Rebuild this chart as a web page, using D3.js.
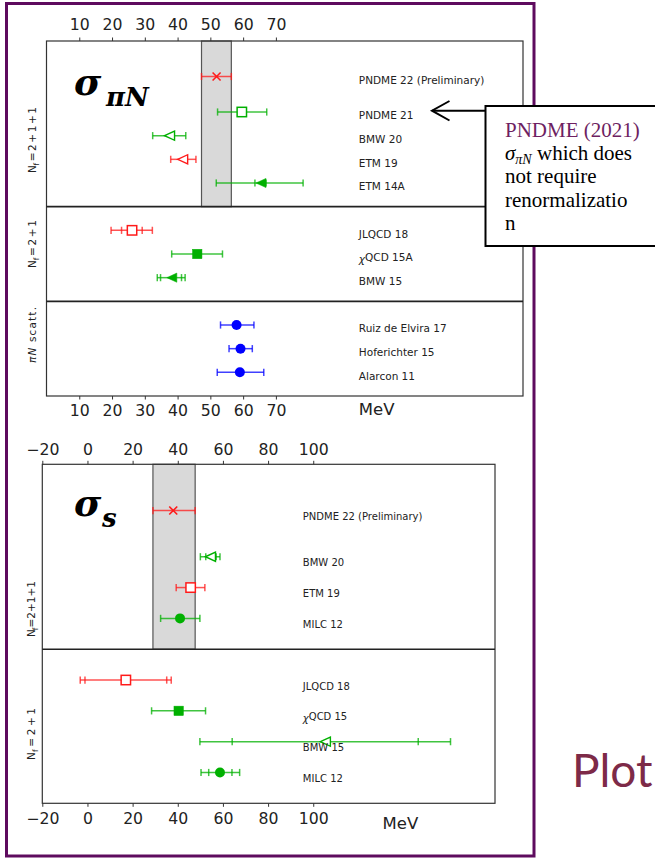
<!DOCTYPE html>
<html><head><meta charset="utf-8">
<script src="https://cdn.jsdelivr.net/npm/d3@7"></script>
<style>body{margin:0;background:#fff}svg{display:block}</style>
</head><body>
<svg id="c" width="655" height="859"></svg>
<script>
// ---------- data: sigma_piN ----------
const piNLabels = ["PNDME 22 (Preliminary)", "PNDME 21", "BMW 20", "ETM 19", "ETM 14A",
                   "JLQCD 18", "χQCD 15A", "BMW 15",
                   "Ruiz de Elvira 17", "Hoferichter 15", "Alarcon 11"];
const piNSlots  = [1.5, 3, 4, 5, 6, 8, 9, 10, 12, 13, 14];
const piNValues = [51.9, 59.6, 37.7, 41.7, 65.6, 26.1, 46.0, 38.4, 58.0, 59.2, 59.0];
const piNLo     = [47.3, 52.2, 32.4, 37.9, 51.8, 19.7, 38.2, 33.8, 53.1, 55.7, 52.1];
const piNHi     = [56.4, 67.2, 42.5, 45.6, 78.3, 32.3, 53.7, 42.3, 63.3, 62.8, 66.3];
const piNInLo   = [null, null, null, null, 63.6, 22.9, null, 34.8, null, null, null];
const piNInHi   = [null, null, null, null, 67.0, 29.2, null, 41.2, null, null, null];
const piNMarker = ["x", "square-open", "tri-open", "tri-open", "tri", "square-open", "square", "tri", "circle", "circle", "circle"];
const piNColor  = ["red", "green", "green", "red", "green", "red", "green", "green", "blue", "blue", "blue"];
const piNTicks  = [10, 20, 30, 40, 50, 60, 70];
const piNDividers = [7, 11];
const piNBand   = [47.3, 56.4];
const piNGroups = [
  {text: ["N", "f", "\u2009=\u20092\u2009+\u20091\u2009+\u20091"], center: 140, len: 66},
  {text: ["N", "f", "\u2009=\u20092\u2009+\u20091"], center: 244, len: 48},
  {text: ["πN", "", " scatt."], center: 335, len: 56}
];

// ---------- data: sigma_s ----------
const sLabels = ["PNDME 22 (Preliminary)", "BMW 20", "ETM 19", "MILC 12",
                 "JLQCD 18", "χQCD 15", "BMW 15", "MILC 12"];
const sSlots  = [1.5, 3, 4, 5, 7, 8, 9, 10];
const sValues = [38.0, 54.7, 45.7, 41.0, 17.0, 40.4, 105.6, 58.7];
const sLo     = [29.0, 50.0, 39.3, 32.4, -3.2, 28.4, 49.8, 50.3];
const sHi     = [47.7, 58.7, 52.0, 49.8, 37.1, 52.3, 160.8, 67.4];
const sInLo   = [null, 52.4, null, null, -1.1, null, 64.1, 53.7];
const sInHi   = [null, 57.0, null, null, 35.1, null, 146.5, 64.0];
const sMarker = ["x", "tri-open", "square-open", "circle", "square-open", "square", "tri-open", "circle"];
const sColor  = ["red", "green", "red", "green", "red", "green", "green", "green"];
const sTicks  = [-20, 0, 20, 40, 60, 80, 100];
const sDividers = [6];
const sBand   = [29.0, 47.7];
const sGroups = [
  {text: ["N", "f", "\u2009=\u20092\u2009+\u20091\u2009+\u20091"], center: 609, len: 56},
  {text: ["N", "f", "\u2009=\u20092\u2009+\u20091"], center: 734, len: 52}
];

const palette = {red: "#ff1a1a", green: "#00b000", blue: "#0000ff"};
const svg = d3.select("#c");
const FONT = "'DejaVu Sans', sans-serif";

// purple frame
svg.append("rect").attr("x", 6.5).attr("y", 3.5).attr("width", 527.5).attr("height", 852.5)
  .attr("fill", "none").attr("stroke", "#5e0b5e").attr("stroke-width", 3);

function fmt(d) { return d < 0 ? "\u2212" + Math.abs(d) : String(d); }

function drawMarker(g, type, color, cx, cy) {
  const c = palette[color];
  if (type === "x") {
    g.append("path").attr("d", `M${cx-4},${cy-4}L${cx+4},${cy+4}M${cx-4},${cy+4}L${cx+4},${cy-4}`)
      .attr("stroke", c).attr("stroke-width", 1.6).attr("fill", "none");
  } else if (type.startsWith("square")) {
    const open = type.endsWith("open");
    g.append("rect").attr("x", cx - 4.7).attr("y", cy - 4.7).attr("width", 9.4).attr("height", 9.4)
      .attr("fill", open ? "#fff" : c).attr("stroke", c).attr("stroke-width", open ? 1.5 : 0.5);
  } else if (type.startsWith("tri")) {
    const open = type.endsWith("open");
    g.append("path").attr("d", `M${cx-5.5},${cy}L${cx+4.5},${cy-4.6}L${cx+4.5},${cy+4.6}Z`)
      .attr("fill", open ? "#fff" : c).attr("stroke", c).attr("stroke-width", open ? 1.4 : 0.5);
  } else if (type === "circle") {
    g.append("circle").attr("cx", cx).attr("cy", cy).attr("r", 5).attr("fill", c);
  }
}

function drawForest(cfg) {
  const x = d3.scaleLinear().domain(cfg.xDomain).range([cfg.left, cfg.right]);
  const y = d3.scaleLinear().domain(cfg.yDomain).range([cfg.top, cfg.bottom]);
  const g = svg.append("g");

  // band
  g.append("rect").attr("x", x(cfg.band[0])).attr("y", y(cfg.yDomain[0]))
    .attr("width", x(cfg.band[1]) - x(cfg.band[0])).attr("height", y(cfg.bandEnd) - y(cfg.yDomain[0]))
    .attr("fill", "#d9d9d9").attr("stroke", "#555").attr("stroke-width", 1.2);

  // spines
  g.append("rect").attr("x", cfg.left).attr("y", cfg.top)
    .attr("width", cfg.right - cfg.left).attr("height", cfg.bottom - cfg.top)
    .attr("fill", "none").attr("stroke", "#333").attr("stroke-width", 1.2);

  // dividers
  cfg.dividers.forEach(d => {
    g.append("line").attr("x1", cfg.left).attr("x2", cfg.right)
      .attr("y1", y(d)).attr("y2", y(d)).attr("stroke", "#222").attr("stroke-width", 1.6);
  });

  // axes
  const aT = g.append("g").attr("transform", `translate(0,${cfg.top})`)
    .call(d3.axisTop(x).tickValues(cfg.ticks).tickSize(3.5).tickPadding(cfg.padTop).tickFormat(fmt));
  const aB = g.append("g").attr("transform", `translate(0,${cfg.bottom})`)
    .call(d3.axisBottom(x).tickValues(cfg.ticks).tickSize(3.5).tickPadding(cfg.padBottom).tickFormat(fmt));
  [aT, aB].forEach(a => {
    a.select(".domain").remove();
    a.selectAll("line").attr("stroke", "#333").attr("stroke-width", 1);
    a.selectAll("text").attr("font-family", FONT).attr("font-size", 15.7).attr("fill", "#222");
  });

  // error bars + markers
  cfg.values.forEach((v, i) => {
    const cy = y(cfg.slots[i]);
    const c = palette[cfg.color[i]];
    const eb = g.append("g").attr("stroke", c).attr("stroke-opacity", 0.75).attr("stroke-width", 1.5);
    eb.append("line").attr("x1", x(cfg.lo[i])).attr("x2", x(cfg.hi[i])).attr("y1", cy).attr("y2", cy);
    [cfg.lo[i], cfg.hi[i], cfg.inLo[i], cfg.inHi[i]].forEach(e => {
      if (e === null) return;
      eb.append("line").attr("x1", x(e)).attr("x2", x(e)).attr("y1", cy - 3.6).attr("y2", cy + 3.6);
    });
    drawMarker(g, cfg.marker[i], cfg.color[i], x(v), cy);

    // label
    const t = g.append("text").attr("x", x(cfg.labelX)).attr("y", cy + cfg.labelDy)
      .attr("font-family", FONT).attr("font-size", cfg.labelSize).attr("fill", "#222");
    const lab = cfg.labels[i];
    if (lab.startsWith("χ")) {
      t.append("tspan").attr("font-style", "italic").attr("dy", 1.5).text("χ");
      t.append("tspan").attr("dy", -1.5).text(lab.slice(1));
    } else t.text(lab);
  });

  // group labels (rotated)
  cfg.groups.forEach(gr => {
    const t = g.append("text")
      .attr("transform", `translate(${cfg.groupX},${gr.center}) rotate(-90)`)
      .attr("text-anchor", "middle").attr("font-family", FONT).attr("font-size", 10.5).attr("fill", "#222")
      .attr("textLength", gr.len).attr("lengthAdjust", "spacing");
    if (gr.text[0] === "πN") {
      t.append("tspan").attr("font-style", "italic").text("πN");
      t.append("tspan").text(gr.text[2]);
    } else {
      t.append("tspan").text(gr.text[0]);
      t.append("tspan").attr("font-size", 7.5).attr("dy", 2.5).text(gr.text[1]);
      t.append("tspan").attr("dy", -2.5).text(gr.text[2]);
    }
  });

  // unit
  g.append("text").attr("x", x(cfg.unitX)).attr("y", cfg.unitY)
    .attr("font-family", FONT).attr("font-size", 16.5).attr("fill", "#222").text("MeV");
  return {x, y};
}

drawForest({
  xDomain: [0, 145.4], left: 46.5, right: 523,
  yDomain: [0, 15], top: 41, bottom: 396,
  ticks: piNTicks, padTop: 7.5, padBottom: 5.8,
  band: piNBand, bandEnd: 7, dividers: piNDividers,
  slots: piNSlots, values: piNValues, lo: piNLo, hi: piNHi, inLo: piNInLo, inHi: piNInHi,
  marker: piNMarker, color: piNColor, labels: piNLabels,
  labelX: 95.3, labelDy: 7.2, labelSize: 10.5,
  groups: piNGroups, groupX: 36,
  unitX: 95.3, unitY: 415
});

drawForest({
  xDomain: [-20, 180.5], left: 42.3, right: 495,
  yDomain: [0, 11], top: 464.3, bottom: 803.3,
  ticks: sTicks, padTop: 5.5, padBottom: 5.8,
  band: sBand, bandEnd: 6, dividers: sDividers,
  slots: sSlots, values: sValues, lo: sLo, hi: sHi, inLo: sInLo, inHi: sInHi,
  marker: sMarker, color: sColor, labels: sLabels,
  labelX: 95.4, labelDy: 9.6, labelSize: 10,
  groups: sGroups, groupX: 35,
  unitX: 130.7, unitY: 828.5
});

// big sigma titles
const SERIF = "'DejaVu Serif', serif";
function bigSigma(x0, base, sub, subX, subBase) {
  svg.append("text").attr("x", x0).attr("y", base).attr("font-family", SERIF)
    .attr("font-weight", "bold").attr("font-style", "italic").attr("font-size", 37).attr("fill", "#000").text("σ");
  svg.append("text").attr("x", subX).attr("y", subBase).attr("font-family", SERIF)
    .attr("font-weight", "bold").attr("font-style", "italic").attr("font-size", 26).attr("fill", "#000").text(sub);
}
bigSigma(74, 94.5, "πN", 106, 105.7);
bigSigma(74, 515.5, "s", 102, 526.7);

// annotation arrow
svg.append("line").attr("x1", 432).attr("x2", 486).attr("y1", 110.7).attr("y2", 110.7)
  .attr("stroke", "#000").attr("stroke-width", 2);
svg.append("path").attr("d", "M449.5,101L432,110.7L449.5,120.5")
  .attr("fill", "none").attr("stroke", "#000").attr("stroke-width", 2);

// annotation box
svg.append("rect").attr("x", 485.5).attr("y", 106).attr("width", 190).attr("height", 140)
  .attr("fill", "#fff").attr("stroke", "#000").attr("stroke-width", 2);
const AFONT = "'Liberation Serif', serif";
const annLines = ["PNDME (2021)", "σ|πN| which does", "not require", "renormalizatio", "n"];
const annBase = [136.7, 160, 183.3, 206.7, 230];
annLines.forEach((s, i) => {
  const t = svg.append("text").attr("x", 505).attr("y", annBase[i])
    .attr("font-family", AFONT).attr("font-size", 21).attr("fill", i === 0 ? "#6e1f62" : "#000");
  if (s.includes("|")) {
    const p = s.split("|");
    t.append("tspan").attr("font-style", "italic").text(p[0]);
    t.append("tspan").attr("font-style", "italic").attr("font-size", 14).attr("dy", 4).text(p[1]);
    t.append("tspan").attr("dy", -4).text(p[2]);
  } else t.text(s);
});

// "Plot" text
svg.append("text").attr("x", 572).attr("y", 787).attr("font-family", "Lato, 'Open Sans', sans-serif")
  .attr("font-size", 46).attr("fill", "#7d2a48").text("Plot");
</script>
</body></html>
